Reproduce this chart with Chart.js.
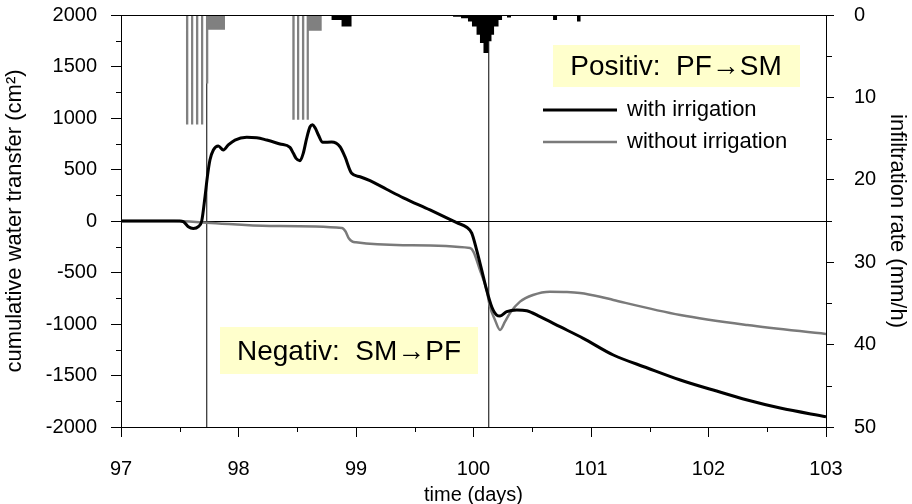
<!DOCTYPE html>
<html>
<head>
<meta charset="utf-8">
<script src="https://cdn.jsdelivr.net/npm/chart.js@4.4.0/dist/chart.umd.min.js"></script>
<style>
  html, body { margin: 0; padding: 0; background: #fff; }
  #wrap { width: 912px; height: 504px; }
</style>
</head>
<body>
<div id="wrap"><canvas id="chart" width="912" height="504"></canvas></div>
<script>
// cumulative water transfer, with irrigation (cm2)
const withDays = [97, 97.5, 97.53, 97.573, 97.615, 97.658, 97.687, 97.715, 97.735, 97.757, 97.786, 97.828, 97.871, 97.913, 97.97, 98.07, 98.155, 98.24, 98.353, 98.438, 98.467, 98.49, 98.523, 98.551, 98.58, 98.609, 98.631, 98.654, 98.68, 98.717, 98.793, 98.864, 98.906, 98.963, 99.034, 99.119, 99.26, 99.403, 99.63, 99.857, 99.942, 99.985, 100.027, 100.07, 100.112, 100.155, 100.197, 100.226, 100.283, 100.368, 100.453, 100.566, 100.736, 100.934, 101.19, 101.48, 101.76, 102.04, 102.33, 102.61, 103];
const withVals = [0, 0, -5, -55, -72, -55, 0, 236, 430, 592, 689, 728, 689, 738, 786, 812, 809, 786, 748, 715, 657, 608, 585, 657, 803, 915, 935, 900, 835, 764, 767, 721, 624, 463, 430, 391, 308, 225, 107, -16, -61, -117, -282, -476, -670, -832, -913, -922, -880, -864, -871, -929, -1026, -1139, -1301, -1427, -1544, -1641, -1738, -1816, -1900];

// cumulative water transfer, without irrigation (cm2)
const withoutDays = [97, 97.45, 97.73, 98.27, 98.88, 98.91, 98.94, 98.97, 99.0, 99.4, 99.97, 100.0, 100.055, 100.112, 100.14, 100.183, 100.226, 100.268, 100.311, 100.396, 100.506, 100.651, 100.796, 100.906, 101.077, 101.19, 101.76, 102.33, 103];
const withoutVals = [0, 0, -16, -49, -68, -100, -170, -200, -207, -235, -262, -300, -476, -670, -832, -961, -1058, -978, -893, -783, -718, -686, -689, -699, -735, -767, -913, -1010, -1097];

// irrigation rate (mm/h), value holds from each day until the next one
const irrDays = [97, 97.553, 97.573, 97.596, 97.615, 97.638, 97.658, 97.681, 97.700, 97.723, 97.743, 97.885, 98.458, 98.478, 98.498, 98.517, 98.540, 98.560, 98.580, 98.599, 98.708, 103];
const irrRates = [0, 13.3, 0, 13.3, 0, 13.3, 0, 13.3, 0, 8.3, 1.8, 0, 12.7, 0, 12.7, 0, 12.7, 0, 12.7, 1.9, 0, 0];

// natural rainfall rate (mm/h)
const rainDays = [97, 98.792, 98.877, 98.962, 99.826, 99.894, 99.953, 99.987, 100.026, 100.055, 100.085, 100.128, 100.153, 100.175, 100.213, 100.243, 100.285, 100.319, 100.677, 100.711, 100.881, 100.911, 103];
const rainRates = [0, 0.6, 1.4, 0, 0.2, 0.4, 0.8, 1.4, 2.4, 3.4, 4.6, 3.2, 2.4, 1.4, 0.6, 0, 0.3, 0, 0.6, 0, 0.8, 0, 0];

// vertical marker lines (days)
const markerDays = [97.73, 100.13];

const xTicks = [97, 98, 99, 100, 101, 102, 103];
const FONT = "'Liberation Sans', Arial, sans-serif";

const toXY = (xs, ys) => xs.map((x, i) => ({ x: x, y: ys[i] }));

const datasets = [
  {
    label: 'with irrigation',
    data: toXY(withDays, withVals),
    borderColor: '#000',
    borderWidth: 3,
    cubicInterpolationMode: 'monotone',
    pointRadius: 0,
    order: 0
  },
  {
    label: 'without irrigation',
    data: toXY(withoutDays, withoutVals),
    borderColor: '#7a7a7a',
    borderWidth: 2.5,
    cubicInterpolationMode: 'monotone',
    pointRadius: 0,
    order: 1
  },
  {
    label: 'irrigation',
    data: toXY(irrDays, irrRates),
    yAxisID: 'y2',
    stepped: true,
    fill: 'origin',
    backgroundColor: '#808080',
    borderColor: 'rgba(0,0,0,0)',
    pointRadius: 0,
    order: 2
  },
  {
    label: 'rain',
    data: toXY(rainDays, rainRates),
    yAxisID: 'y2',
    stepped: true,
    fill: 'origin',
    backgroundColor: '#000',
    borderColor: 'rgba(0,0,0,0)',
    pointRadius: 0,
    order: 2
  }
];

markerDays.forEach(d => {
  datasets.push({
    label: 'marker',
    data: [{ x: d, y: -2000 }, { x: d, y: 2000 }],
    borderColor: '#000',
    borderWidth: 1,
    pointRadius: 0,
    order: 3
  });
});

// frame, minor ticks, legend and the two labelled boxes
const extras = {
  id: 'extras',
  afterDraw(chart) {
    const ctx = chart.ctx;
    const a = chart.chartArea;
    const sx = chart.scales.x, sy = chart.scales.y, s2 = chart.scales.y2;
    ctx.save();
    ctx.strokeStyle = '#000';
    ctx.lineWidth = 1;
    ctx.beginPath();
    ctx.moveTo(a.left, a.top + 0.5);
    ctx.lineTo(a.right, a.top + 0.5);
    // minor ticks
    for (let v = -1750; v < 2000; v += 500) {
      const y = Math.round(sy.getPixelForValue(v)) + 0.5;
      ctx.moveTo(a.left - 5, y); ctx.lineTo(a.left, y);
    }
    for (let v = 5; v < 50; v += 10) {
      const y = Math.round(s2.getPixelForValue(v)) + 0.5;
      ctx.moveTo(a.right, y); ctx.lineTo(a.right + 6, y);
    }
    for (let v = 97.5; v < 103; v += 1) {
      const x = Math.round(sx.getPixelForValue(v)) + 0.5;
      ctx.moveTo(x, a.bottom); ctx.lineTo(x, a.bottom + 5);
    }
    ctx.stroke();

    // text boxes
    ctx.font = '28px ' + FONT;
    ctx.textBaseline = 'middle';
    ctx.textAlign = 'center';
    ctx.fillStyle = '#ffffcc';
    ctx.fillRect(553, 45, 247, 42);
    ctx.fillRect(220, 327, 258, 47);
    ctx.fillStyle = '#000';
    ctx.fillText('Positiv:  PF\u2192SM', 676, 67);
    ctx.fillText('Negativ:  SM\u2192PF', 349, 352);

    // legend
    ctx.textAlign = 'left';
    ctx.font = '22px ' + FONT;
    ctx.lineWidth = 3;
    ctx.strokeStyle = '#000';
    ctx.beginPath(); ctx.moveTo(543, 110); ctx.lineTo(617, 110); ctx.stroke();
    ctx.lineWidth = 2.5;
    ctx.strokeStyle = '#7a7a7a';
    ctx.beginPath(); ctx.moveTo(543, 142); ctx.lineTo(617, 142); ctx.stroke();
    ctx.fillText('with irrigation', 627, 110);
    ctx.fillText('without irrigation', 627, 142);
    ctx.restore();
  }
};

// fixed axis sizes so the plot area sits where the original one does
const fitY = w => scale => {
  scale.width = w;
  scale.paddingTop = 0;
  scale.paddingBottom = 0;
};

new Chart(document.getElementById('chart'), {
  type: 'line',
  data: { datasets: datasets },
  plugins: [extras],
  options: {
    responsive: false,
    animation: false,
    devicePixelRatio: 1,
    layout: { padding: { top: 15, left: 0, right: 0, bottom: 0 } },
    plugins: { legend: { display: false }, tooltip: { enabled: false } },
    scales: {
      x: {
        type: 'linear',
        min: 97,
        max: 103,
        afterBuildTicks: scale => { scale.ticks = xTicks.map(v => ({ value: v })); },
        afterFit: scale => { scale.height = 77; scale.paddingLeft = 0; scale.paddingRight = 0; },
        ticks: { color: '#000', padding: 20, font: { family: FONT, size: 20 }, callback: v => String(v) },
        grid: { drawOnChartArea: false, tickLength: 10, tickColor: '#000' },
        border: { color: '#000', width: 1 },
        title: { display: true, text: 'time (days)', color: '#000', padding: { top: 0, bottom: -3 }, font: { family: FONT, size: 20 } }
      },
      y: {
        position: 'left',
        min: -2000,
        max: 2000,
        afterFit: fitY(121),
        ticks: { stepSize: 500, color: '#000', padding: 14, font: { family: FONT, size: 20 }, callback: v => String(v) },
        grid: {
          tickLength: 10,
          tickColor: '#000',
          color: ctx => (ctx.tick && ctx.tick.value === 0 ? '#000' : 'rgba(0,0,0,0)')
        },
        border: { color: '#000', width: 1 },
        title: { display: true, text: 'cumulative water transfer (cm\u00b2)', color: '#000', padding: { top: 2, bottom: 2 }, font: { family: FONT, size: 22 } }
      },
      y2: {
        position: 'right',
        reverse: true,
        min: 0,
        max: 50,
        afterFit: fitY(86),
        ticks: { stepSize: 10, color: '#000', padding: 20, font: { family: FONT, size: 20 }, callback: v => String(v) },
        grid: { drawOnChartArea: false, tickLength: 8, tickColor: '#000' },
        border: { color: '#000', width: 1 },
        title: { display: true, text: 'infiltration rate (mm/h)', color: '#000', padding: { top: 2, bottom: 2 }, font: { family: FONT, size: 22 } }
      }
    }
  }
});
</script>
</body>
</html>
